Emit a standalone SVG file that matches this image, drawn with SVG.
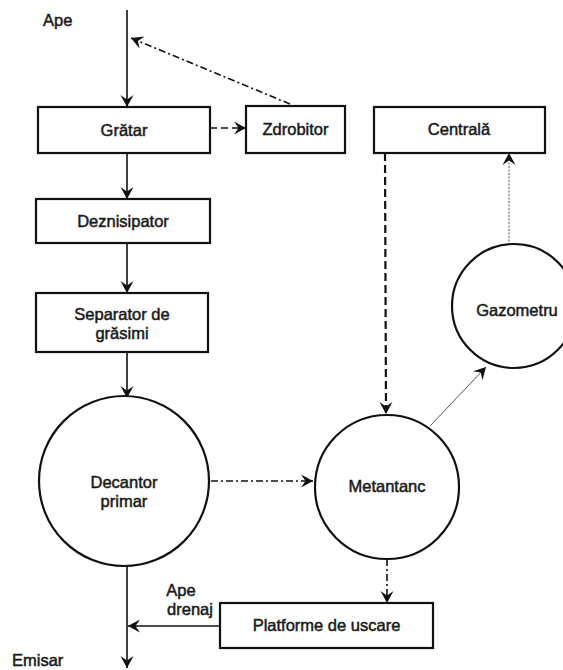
<svg xmlns="http://www.w3.org/2000/svg" width="563" height="670" viewBox="0 0 563 670">
  <defs>
    <marker id="arr" viewBox="-13 -7 14 14" refX="0" refY="0" markerWidth="14" markerHeight="14" markerUnits="userSpaceOnUse" orient="auto">
      <path d="M0,0 L-12,-6.5 L-7.5,0 L-12,6.5 Z" fill="#111"/>
    </marker>
    <style>
      .box { fill: #fff; stroke: #111; stroke-width: 2.2; }
      .tank { fill: #fff; stroke: #111; stroke-width: 2.2; }
      .lbl { font-family: "Liberation Sans", Arial, sans-serif; font-size: 16.5px; fill: #1a1a1a; stroke: #1a1a1a; stroke-width: 0.5; text-anchor: middle; }
      .lft { text-anchor: start; }
      .flow { fill: none; stroke: #111; stroke-width: 1.6; marker-end: url(#arr); }
      .plain { fill: none; stroke: #111; stroke-width: 1.6; }
      .dash { stroke-dasharray: 7 4; }
      .dashdot { stroke-dasharray: 7 3 2 3; }
      .longdash { stroke-width: 2.2; stroke-dasharray: 8 4; }
      .dotted { stroke: #555; stroke-width: 1; stroke-dasharray: 2 1.5; }
      .thin { stroke: #555; stroke-width: 1; }
    </style>
  </defs>

  <!-- connectors -->
  <g id="connectors">
    <line class="flow" x1="127" y1="10" x2="127" y2="107"/>
    <line class="flow dash" x1="210" y1="128" x2="246" y2="128"/>
    <line class="flow dashdot" x1="290" y1="104" x2="131" y2="38"/>
    <line class="flow" x1="127" y1="153" x2="127" y2="199"/>
    <line class="flow" x1="127" y1="243" x2="127" y2="293"/>
    <line class="flow" x1="127" y1="352" x2="127" y2="398"/>
    <line class="flow dashdot" x1="211" y1="481" x2="313" y2="481"/>
    <line class="flow longdash" x1="385" y1="153" x2="386" y2="414"/>
    <line class="flow dotted" x1="509" y1="245" x2="509" y2="153"/>
    <line class="flow thin" x1="430" y1="426" x2="486" y2="367"/>
    <line class="flow dashdot" x1="387" y1="559" x2="387" y2="603"/>
    <line class="plain" x1="127" y1="564" x2="127" y2="626"/>
    <line class="flow" x1="220" y1="626" x2="128" y2="626"/>
    <line class="flow" x1="127" y1="626" x2="127" y2="668"/>
  </g>

  <!-- free labels -->
  <g id="labels">
    <text class="lbl lft" x="43" y="26">Ape</text>
    <text class="lbl" x="181" y="596">Ape</text>
    <text class="lbl" x="190" y="615">drenaj</text>
    <text class="lbl lft" x="12" y="666">Emisar</text>
  </g>

  <g id="gratar">
    <rect class="box" x="38" y="107" width="172" height="46"/>
    <text class="lbl" x="124" y="136">Grătar</text>
  </g>

  <g id="zdrobitor">
    <rect class="box" x="246" y="106" width="99" height="47"/>
    <text class="lbl" x="295.500" y="135">Zdrobitor</text>
  </g>

  <g id="deznisipator">
    <rect class="box" x="36" y="199" width="174" height="44"/>
    <text class="lbl" x="123" y="227">Deznisipator</text>
  </g>

  <g id="separator">
    <rect class="box" x="36" y="293" width="172" height="59"/>
    <text class="lbl" x="122" y="320">Separator de</text>
    <text class="lbl" x="122" y="339">grăsimi</text>
  </g>

  <g id="decantor">
    <circle class="tank" cx="124" cy="481" r="85"/>
    <text class="lbl" x="124" y="488">Decantor</text>
    <text class="lbl" x="124" y="507">primar</text>
  </g>

  <g id="centrala">
    <rect class="box" x="374" y="107" width="171" height="46"/>
    <text class="lbl" x="459" y="135">Centrală</text>
  </g>

  <g id="gazometru">
    <circle class="tank" cx="514" cy="306" r="62"/>
    <text class="lbl" x="517" y="316">Gazometru</text>
  </g>

  <g id="metantanc">
    <circle class="tank" cx="387" cy="487" r="72"/>
    <text class="lbl" x="387" y="492">Metantanc</text>
  </g>

  <g id="platforme">
    <rect class="box" x="220" y="603" width="213" height="45"/>
    <text class="lbl" x="326.500" y="631">Platforme de uscare</text>
  </g>
</svg>
